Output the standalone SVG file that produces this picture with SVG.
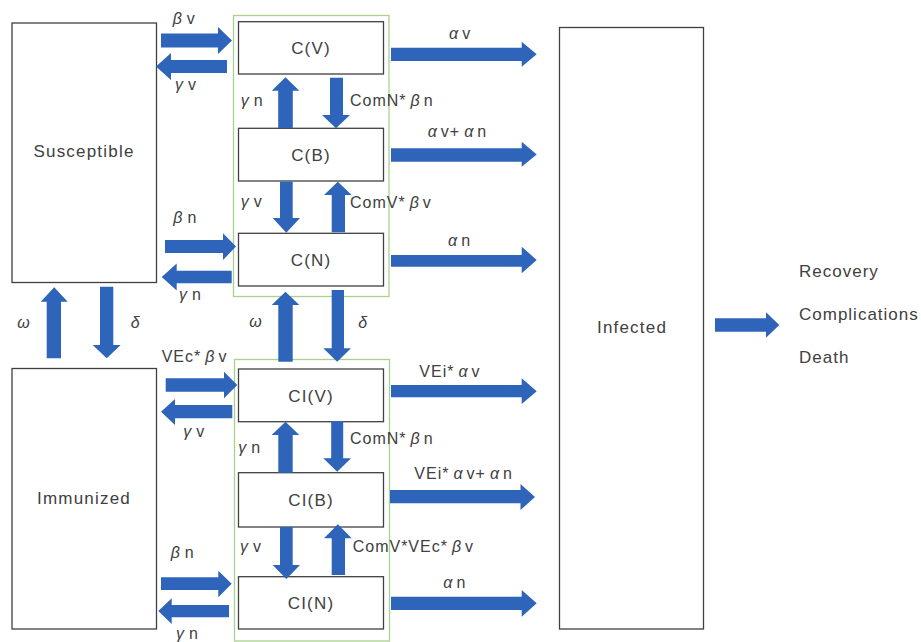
<svg xmlns="http://www.w3.org/2000/svg" width="921" height="642" viewBox="0 0 921 642">
<style>
.box{fill:#fff;stroke:#404040;stroke-width:1.3}
.grp{fill:none;stroke:#a9d18e;stroke-width:1.3}
.arr{fill:#2e64b9}
text{font-family:"Liberation Sans",Arial,sans-serif;fill:#404040}
.nt{font-size:17px;letter-spacing:1.2px;text-anchor:middle}
.lb{font-size:16px;letter-spacing:1px}
.g{font-style:italic}
</style>
<rect width="921" height="642" fill="#fff"/>
<g id="group-C"><rect class="grp" x="233.5" y="15.5" width="155.5" height="281"/></g>
<g id="group-CI"><rect class="grp" x="234.5" y="359.5" width="155" height="281.5"/></g>
<g id="susceptible"><rect class="box" x="12" y="23" width="144.5" height="259.5"/><text class="nt" x="84" y="157">Susceptible</text></g>
<g id="immunized"><rect class="box" x="12" y="368.5" width="144.5" height="260.5"/><text class="nt" x="84" y="504">Immunized</text></g>
<g id="infected"><rect class="box" x="559.5" y="27.5" width="144" height="601.5"/><text class="nt" x="632" y="333">Infected</text></g>
<g id="cv"><rect class="box" x="238.5" y="21.7" width="145" height="52.3"/><text class="nt" x="311" y="54">C(V)</text></g>
<g id="cb"><rect class="box" x="238.5" y="128.3" width="145" height="52.7"/><text class="nt" x="311" y="160.5">C(B)</text></g>
<g id="cn"><rect class="box" x="238.5" y="233.3" width="145" height="52.7"/><text class="nt" x="311" y="265.5">C(N)</text></g>
<g id="civ"><rect class="box" x="238.5" y="369" width="145" height="52.7"/><text class="nt" x="311" y="401.5">CI(V)</text></g>
<g id="cib"><rect class="box" x="238.5" y="472.7" width="145" height="54.3"/><text class="nt" x="311" y="506">CI(B)</text></g>
<g id="cin"><rect class="box" x="238.5" y="576.7" width="145" height="52.3"/><text class="nt" x="311" y="609">CI(N)</text></g>
<g id="outcomes"><text class="lb" style="font-size:17px" x="799" y="276.7">Recovery</text><text class="lb" style="font-size:17px" x="799" y="320">Complications</text><text class="lb" style="font-size:17px" x="799" y="363.3">Death</text></g>
<g id="connectors">
<polygon class="arr" points="161,33.5 218,33.5 218,27 232,40.5 218,54 218,47.5 161,47.5"/>
<polygon class="arr" points="227,60 171,60 171,53 156,66.5 171,80 171,73 227,73"/>
<polygon class="arr" points="165,240 223,240 223,233.3 236,246.5 223,260 223,253 165,253"/>
<polygon class="arr" points="231.7,270.7 176.7,270.7 176.7,263.5 161.7,277 176.7,290.5 176.7,283.3 231.7,283.3"/>
<polygon class="arr" points="165.7,378.3 224,378.3 224,371.7 237.3,385 224,398.3 224,391.7 165.7,391.7"/>
<polygon class="arr" points="232.3,405 175,405 175,399 161,411.7 175,425 175,418.3 232.3,418.3"/>
<polygon class="arr" points="161,577.3 218.3,577.3 218.3,570.7 231.7,583.7 218.3,597.3 218.3,590 161,590"/>
<polygon class="arr" points="229,605 171.7,605 171.7,598.3 158.3,611 171.7,624 171.7,617.3 229,617.3"/>
<polygon class="arr" points="391,47.7 521.7,47.7 521.7,41.7 536.7,54.3 521.7,66.7 521.7,61 391,61"/>
<polygon class="arr" points="391,148.3 521.7,148.3 521.7,141.7 536.7,154.5 521.7,166.7 521.7,161.7 391,161.7"/>
<polygon class="arr" points="391,255 521.7,255 521.7,246.7 536.7,260 521.7,273.3 521.7,266.7 391,266.7"/>
<polygon class="arr" points="391,385 521.7,385 521.7,378.3 536.7,391.2 521.7,404 521.7,397.3 391,397.3"/>
<polygon class="arr" points="390,490 520.5,490 520.5,484 535,497 520.5,510 520.5,503.3 390,503.3"/>
<polygon class="arr" points="391,596.7 521.7,596.7 521.7,590 536.7,603.3 521.7,616.7 521.7,610 391,610"/>
<polygon class="arr" points="715,318.3 766,318.3 766,312.3 779.3,325 766,337.7 766,331.7 715,331.7"/>
<polygon class="arr" points="278.2,128.3 278.2,90.7 271.7,90.7 285.5,77.3 299.3,90.7 292.8,90.7 292.8,128.3"/>
<polygon class="arr" points="330,77.7 343,77.7 343,115 350,115 336,128.3 322,115 330,115"/>
<polygon class="arr" points="280,181.7 292.7,181.7 292.7,218 300,218 286.3,232.7 272.7,218 280,218"/>
<polygon class="arr" points="331.7,232.3 331.7,195 324,195 337.8,181.7 351.7,195 345,195 345,232.3"/>
<polygon class="arr" points="278.3,361.7 278.3,305 271.7,305 285.5,291.7 299.3,305 292.7,305 292.7,361.7"/>
<polygon class="arr" points="331.7,290 344,290 344,348.3 351,348.3 337.2,361.7 323.3,348.3 331.7,348.3"/>
<polygon class="arr" points="278.3,472.7 278.3,435 271.7,435 285.5,421.7 299.3,435 292.7,435 292.7,472.7"/>
<polygon class="arr" points="331.2,421 343.2,421 343.2,458.3 351,458.3 337.2,471.7 323.3,458.3 331.2,458.3"/>
<polygon class="arr" points="280,527 292.7,527 292.7,565 300,565 286.3,579 272.7,565 280,565"/>
<polygon class="arr" points="331.7,575 331.7,538.3 324,538.3 337.8,524.3 351.7,538.3 345,538.3 345,575"/>
<polygon class="arr" points="46.7,358.3 46.7,301.7 40.7,301.7 54.2,287.3 67.7,301.7 61,301.7 61,358.3"/>
<polygon class="arr" points="100,286.7 113.3,286.7 113.3,345 120.7,345 106.7,358.3 92.7,345 100,345"/>
</g>
<g id="labels">
<text class="lb" x="172.7" y="24"><tspan class="g">β</tspan><tspan dx="4">v</tspan></text>
<text class="lb" x="175" y="90"><tspan class="g">γ</tspan><tspan dx="4">v</tspan></text>
<text class="lb" x="449" y="39"><tspan class="g">α</tspan><tspan dx="3">v</tspan></text>
<text class="lb" x="240.7" y="106"><tspan class="g">γ</tspan><tspan dx="4">n</tspan></text>
<text class="lb" x="350" y="106">ComN*<tspan class="g" dx="4">β</tspan><tspan dx="3">n</tspan></text>
<text class="lb" x="427.7" y="136.7"><tspan class="g">α</tspan><tspan dx="3">v+</tspan><tspan class="g" dx="4">α</tspan><tspan dx="3">n</tspan></text>
<text class="lb" x="240.7" y="206.7"><tspan class="g">γ</tspan><tspan dx="4">v</tspan></text>
<text class="lb" x="350" y="208">ComV*<tspan class="g" dx="4">β</tspan><tspan dx="3">v</tspan></text>
<text class="lb" x="173.3" y="222.7"><tspan class="g">β</tspan><tspan dx="4">n</tspan></text>
<text class="lb" x="448" y="246"><tspan class="g">α</tspan><tspan dx="3">n</tspan></text>
<text class="lb" x="179" y="300"><tspan class="g">γ</tspan><tspan dx="4">n</tspan></text>
<text class="lb g" x="249.3" y="326.7">ω</text>
<text class="lb g" x="358.3" y="328">δ</text>
<text class="lb g" x="17.3" y="328">ω</text>
<text class="lb g" x="130.7" y="328">δ</text>
<text class="lb" x="161.7" y="361.7">VEc*<tspan class="g" dx="4">β</tspan><tspan dx="3">v</tspan></text>
<text class="lb" x="183.3" y="436.7"><tspan class="g">γ</tspan><tspan dx="4">v</tspan></text>
<text class="lb" x="419.3" y="376.7">VEi*<tspan class="g" dx="4">α</tspan><tspan dx="3">v</tspan></text>
<text class="lb" x="238.3" y="453.3"><tspan class="g">γ</tspan><tspan dx="4">n</tspan></text>
<text class="lb" x="350" y="444">ComN*<tspan class="g" dx="4">β</tspan><tspan dx="3">n</tspan></text>
<text class="lb" x="414.3" y="479">VEi*<tspan class="g" dx="4">α</tspan><tspan dx="3">v+</tspan><tspan class="g" dx="4">α</tspan><tspan dx="3">n</tspan></text>
<text class="lb" x="240" y="551.7"><tspan class="g">γ</tspan><tspan dx="4">v</tspan></text>
<text class="lb" x="352.7" y="551.7">ComV*VEc*<tspan class="g" dx="4">β</tspan><tspan dx="3">v</tspan></text>
<text class="lb" x="170.7" y="557.7"><tspan class="g">β</tspan><tspan dx="4">n</tspan></text>
<text class="lb" x="443.3" y="588.3"><tspan class="g">α</tspan><tspan dx="3">n</tspan></text>
<text class="lb" x="176" y="639"><tspan class="g">γ</tspan><tspan dx="4">n</tspan></text>
</g>
</svg>
